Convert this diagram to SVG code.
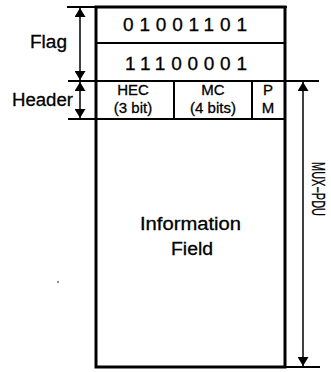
<svg xmlns="http://www.w3.org/2000/svg" width="331" height="372" viewBox="0 0 331 372">
<style>
text{font-family:"Liberation Sans",Arial,sans-serif;fill:#000;stroke:#000;stroke-width:0.3}
.big{font-size:18px}
.dig{font-size:19px}
.mid{font-size:15px}
.ln{stroke:#000;stroke-width:2;fill:none}
.bx{stroke:#000;stroke-width:3;fill:none}
.ar{stroke:#000;stroke-width:1.5;fill:none}
</style>
<defs>
<marker id="ah" viewBox="0 0 10 10" refX="10" refY="5" markerWidth="9" markerHeight="11" markerUnits="userSpaceOnUse" orient="auto-start-reverse" preserveAspectRatio="none">
<path d="M0,0 L10,5 L0,10 Z" fill="#000"/>
</marker>
</defs>
<rect width="331" height="372" fill="#fff"/>
<g id="frame">
<rect class="bx" x="96" y="7" width="189" height="360"/>
</g>
<g id="flag1">
<text class="dig" x="123" y="31" textLength="124" lengthAdjust="spacing">01001101</text>
</g>
<g id="flag2">
<line class="ln" x1="96" y1="43" x2="285" y2="43"/>
<text class="dig" x="125" y="70" textLength="122" lengthAdjust="spacing">11100001</text>
</g>
<g id="header">
<line class="ln" x1="96" y1="81" x2="285" y2="81"/>
<line class="ln" x1="96" y1="119" x2="285" y2="119"/>
<line class="ln" x1="174" y1="81" x2="174" y2="119"/>
<line class="ln" x1="252" y1="81" x2="252" y2="119"/>
</g>
<g id="hec">
<text class="mid" x="133" y="95" text-anchor="middle">HEC</text>
<text class="mid" x="133" y="113" text-anchor="middle">(3 bit)</text>
</g>
<g id="mc">
<text class="mid" x="213" y="95" text-anchor="middle">MC</text>
<text class="mid" x="213" y="113" text-anchor="middle">(4 bits)</text>
</g>
<g id="pm">
<text class="mid" x="268" y="95" text-anchor="middle">P</text>
<text class="mid" x="268" y="113" text-anchor="middle">M</text>
</g>
<g id="info">
<text class="big" x="140" y="230" textLength="101" lengthAdjust="spacingAndGlyphs">Information</text>
<text class="big" x="171" y="255" textLength="42" lengthAdjust="spacingAndGlyphs">Field</text>
</g>
<g id="labels">
<text class="big" x="30" y="48" textLength="37" lengthAdjust="spacingAndGlyphs">Flag</text>
<text class="big" x="12" y="106" textLength="61" lengthAdjust="spacingAndGlyphs">Header</text>
<text class="big" transform="translate(312,189) rotate(90)" text-anchor="middle" textLength="54" lengthAdjust="spacingAndGlyphs">MUX−PDU</text>
</g>
<g id="connectors">
<line class="ln" x1="67" y1="7" x2="287" y2="7"/>
<line class="ln" x1="68" y1="81" x2="96" y2="81"/>
<line class="ln" x1="285" y1="81" x2="319" y2="81"/>
<line class="ln" x1="68" y1="119" x2="96" y2="119"/>
<line class="ln" x1="285" y1="367" x2="320" y2="367"/>
<line class="ar" x1="80" y1="8" x2="80" y2="80" marker-start="url(#ah)" marker-end="url(#ah)"/>
<line class="ar" x1="80" y1="82" x2="80" y2="118" marker-start="url(#ah)" marker-end="url(#ah)"/>
<line class="ar" x1="303" y1="82" x2="303" y2="366" marker-start="url(#ah)" marker-end="url(#ah)"/>
<circle cx="58" cy="282" r="0.8" fill="#000"/>
</g>
</svg>
